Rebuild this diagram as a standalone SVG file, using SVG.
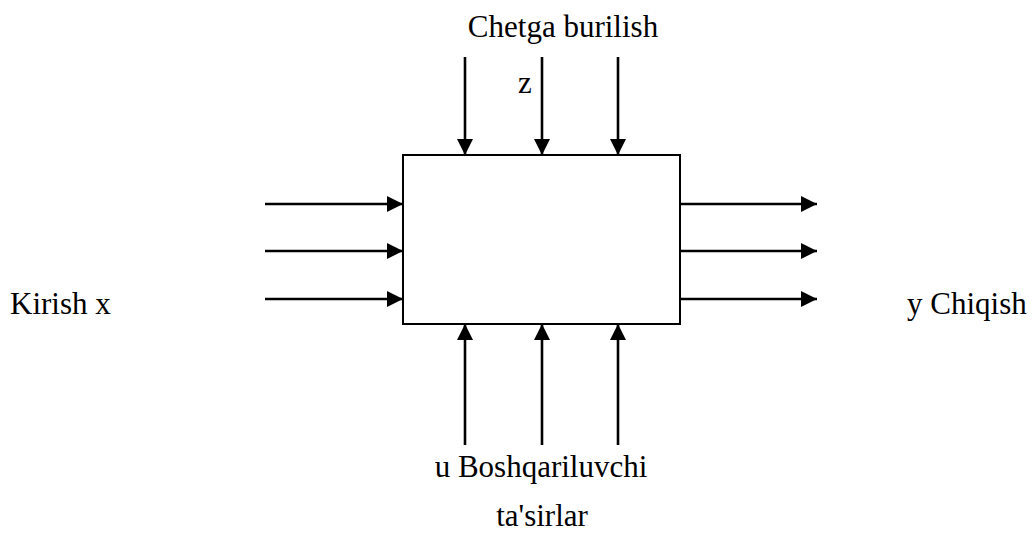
<svg xmlns="http://www.w3.org/2000/svg" width="1033" height="535" viewBox="0 0 1033 535">
  <style>
    .lbl { font-family: "Liberation Serif", "Times New Roman", serif; font-size: 31px; fill: #000; }
    .mid { text-anchor: middle; }
    .wire { stroke: #000; stroke-width: 2.6; fill: none; marker-end: url(#head); }
    .box { fill: #fff; stroke: #000; stroke-width: 2; }
  </style>
  <defs>
    <marker id="head" markerUnits="userSpaceOnUse" markerWidth="17" markerHeight="17" refX="16" refY="8" orient="auto">
      <path d="M0,0 L16,8 L0,16 Z" fill="#000"/>
    </marker>
  </defs>

  <!-- system block -->
  <g id="system">
    <rect class="box" x="403" y="155" width="277" height="169"/>
  </g>

  <!-- signal connectors -->
  <g id="connectors">
    <!-- disturbances from above -->
    <line class="wire" x1="465" y1="57" x2="465" y2="155"/>
    <line class="wire" x1="542" y1="57" x2="542" y2="155"/>
    <line class="wire" x1="618" y1="57" x2="618" y2="155"/>
    <!-- inputs -->
    <line class="wire" x1="265" y1="204" x2="403" y2="204"/>
    <line class="wire" x1="265" y1="251" x2="403" y2="251"/>
    <line class="wire" x1="265" y1="299" x2="403" y2="299"/>
    <!-- outputs -->
    <line class="wire" x1="680" y1="204" x2="817" y2="204"/>
    <line class="wire" x1="680" y1="251" x2="817" y2="251"/>
    <line class="wire" x1="680" y1="299" x2="817" y2="299"/>
    <!-- control actions from below -->
    <line class="wire" x1="465" y1="445" x2="465" y2="324"/>
    <line class="wire" x1="542" y1="445" x2="542" y2="324"/>
    <line class="wire" x1="618" y1="445" x2="618" y2="324"/>
  </g>

  <g id="disturbance-label">
    <text class="lbl mid" x="563" y="37">Chetga burilish</text>
    <text class="lbl mid" x="525" y="93">z</text>
  </g>
  <g id="input-label">
    <text class="lbl" x="10" y="314">Kirish x</text>
  </g>
  <g id="output-label">
    <text class="lbl" x="907" y="314">y Chiqish</text>
  </g>
  <g id="control-label">
    <text class="lbl mid" x="541" y="477">u Boshqariluvchi</text>
    <text class="lbl mid" x="542" y="526">ta'sirlar</text>
  </g>
</svg>
